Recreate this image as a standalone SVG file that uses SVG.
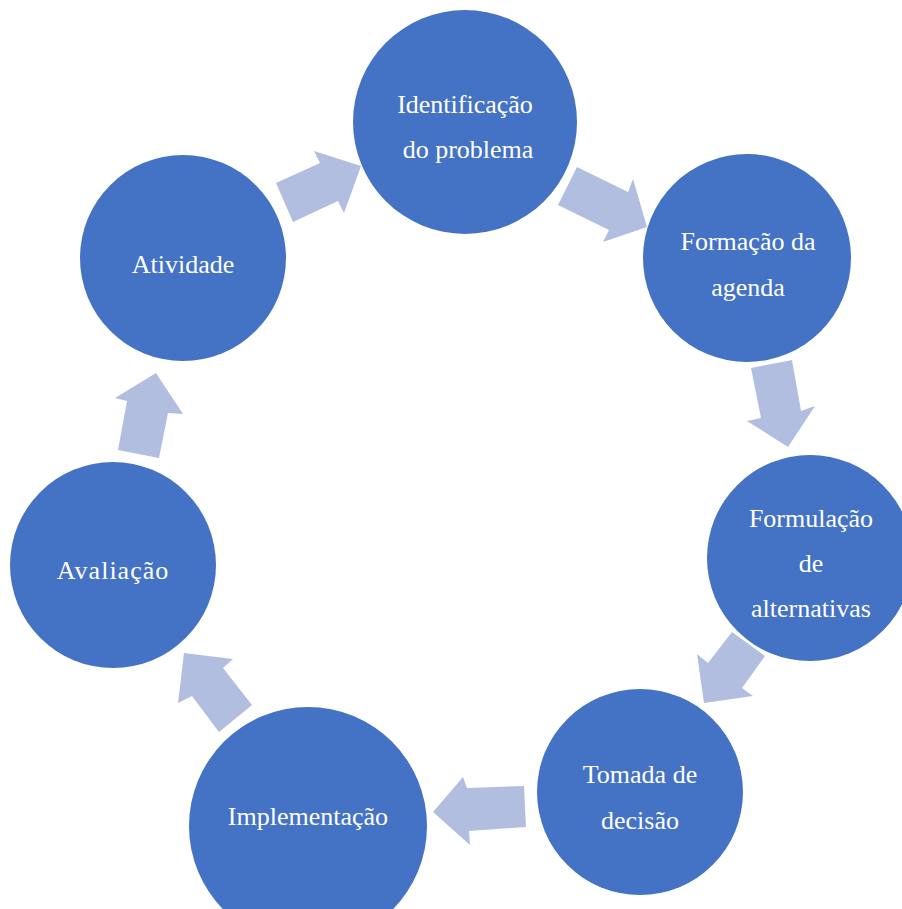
<svg xmlns="http://www.w3.org/2000/svg" width="902" height="909" viewBox="0 0 902 909">
<style>
.node{fill:#4472C4}
.arrow{fill:#B1BEE0}
text{font-family:"Liberation Serif","Times New Roman",serif;font-size:26px;fill:#FFFFFF;text-anchor:middle}
</style>
<rect width="902" height="909" fill="#FFFFFF"/>
<g id="connectors">
<polygon class="arrow" points="293,222 276,183 320,163 314,151 361,166 344,213 338,201"/>
<polygon class="arrow" points="577,167 628,192 633,179 647,227 603,242 609,230 558,205"/>
<polygon class="arrow" points="751,368 792,360 801,411 815,406 788,447 747,421 761,418"/>
<polygon class="arrow" points="732,632 765,656 742,688 753,696 704,703 697,654 708,663"/>
<polygon class="arrow" points="524,786 526,827 469,831 470,845 433,812 463,777 467,788"/>
<polygon class="arrow" points="252,705 219,732 192,696 178,703 184,653 233,659 223,668"/>
<polygon class="arrow" points="118,450 159,458 168,413 183,414 156,373 115,398 127,401"/>
</g>
<g id="node-identificacao">
<circle class="node" cx="465" cy="122" r="112"/>
<text x="465" y="113">Identificação</text>
<text x="468" y="158">do problema</text>
</g>
<g id="node-formacao">
<circle class="node" cx="747" cy="258" r="104"/>
<text x="748" y="250">Formação da</text>
<text x="748" y="296">agenda</text>
</g>
<g id="node-formulacao">
<circle class="node" cx="810" cy="558" r="103"/>
<text x="811" y="527">Formulação</text>
<text x="811" y="572">de</text>
<text x="811" y="617">alternativas</text>
</g>
<g id="node-tomada">
<circle class="node" cx="640" cy="792" r="103"/>
<text x="640" y="783">Tomada de</text>
<text x="640" y="829">decisão</text>
</g>
<g id="node-implementacao">
<circle class="node" cx="308" cy="826" r="119"/>
<text x="308" y="825">Implementação</text>
</g>
<g id="node-avaliacao">
<circle class="node" cx="113" cy="565" r="103"/>
<text x="113" y="579" letter-spacing="1">Avaliação</text>
</g>
<g id="node-atividade">
<circle class="node" cx="183" cy="258" r="103"/>
<text x="183" y="273">Atividade</text>
</g>
</svg>
